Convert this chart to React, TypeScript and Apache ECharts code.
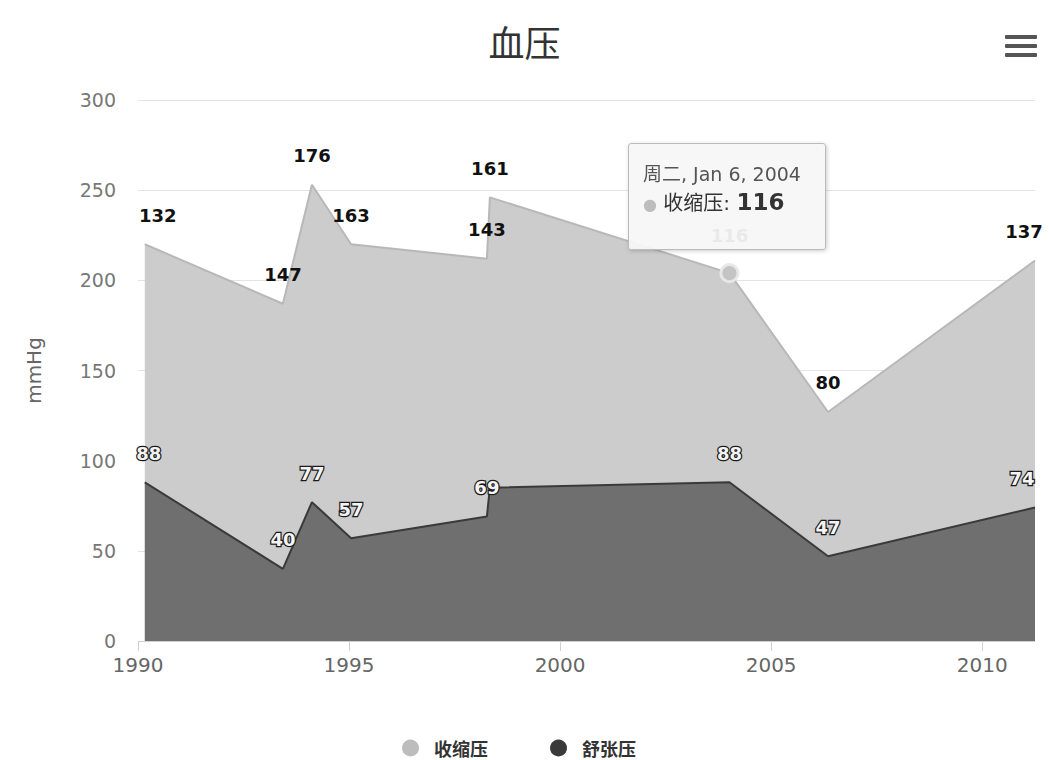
import React, { useEffect, useRef } from "react";
import * as echarts from "echarts";

const dates = ["1990-03-01", "1993-06-08", "1994-02-14", "1995-01-19", "1998-04-08", "1998-05-04", "2004-01-06", "2006-05-08", "2011-04-03"];
const systolic = [132, 147, 176, 163, 143, 161, 116, 80, 137];
const diastolic = [88, 40, 77, 57, 69, 85, 88, 47, 74];
const seriesNames = ["收缩压", "舒张压"];
const seriesColors = ["#bdbdbd", "#3a3a3a"];
const titleText = "血压";
const yAxisName = "mmHg";
const weekdays = ["周日", "周一", "周二", "周三", "周四", "周五", "周六"];
const months = ["Jan", "Feb", "Mar", "Apr", "May", "Jun", "Jul", "Aug", "Sep", "Oct", "Nov", "Dec"];
const hiddenDiastolicLabel = 5;
const tooltipIndex = 6;

const ts = (s: string) => {
  const [y, m, d] = s.split("-").map(Number);
  return Date.UTC(y, m - 1, d);
};
const FIVE_YEARS = 5 * 365.25 * 86400000;
const FONT = '"DejaVu Sans", "Noto Sans CJK SC", sans-serif';
const CJK = '"Noto Sans CJK SC", "DejaVu Sans", sans-serif';
const INVISIBLE = "rgba(0,0,0,0)";

export default function App() {
  const ref = useRef<HTMLDivElement>(null);
  useEffect(() => {
    document.body.style.margin = "0";
    if (!ref.current) return;
    const chart = echarts.init(ref.current, undefined, { renderer: "svg" });
    const last = dates.length - 1;
    const diaData = dates.map((d, i) => {
      const item: any = { value: [ts(d), diastolic[i]] };
      if (i === hiddenDiastolicLabel) item.label = { show: false };
      if (i === 0) item.label = { offset: [4, 0] };
      if (i === last) item.label = { offset: [-13, 0] };
      return item;
    });
    // upper edge of the systolic band = diastolic + systolic (its area is drawn beneath the diastolic area)
    const sysData = dates.map((d, i) => {
      const item: any = { value: [ts(d), diastolic[i] + systolic[i]] };
      if (i === tooltipIndex) {
        item.symbolSize = 17;
        item.itemStyle = { color: "#c4c4c4", borderColor: "rgba(232,232,232,0.95)", borderWidth: 3 };
      }
      if (i === 0) item.label = { offset: [13, 0] };
      if (i === last) item.label = { offset: [-11, 0] };
      return item;
    });
    const labelBase = {
      show: true,
      position: "top",
      distance: 19,
      fontSize: 18,
      fontWeight: "bold",
      fontFamily: FONT,
    };
    chart.setOption({
      animation: false,
      backgroundColor: "#ffffff",
      textStyle: { fontFamily: FONT },
      title: {
        text: titleText,
        left: "center",
        top: 18,
        textStyle: { fontSize: 36, fontWeight: "normal", color: "#333", fontFamily: CJK },
      },
      grid: { left: 138, right: 14, top: 100, bottom: 119 },
      legend: {
        data: seriesNames.map((n, i) => ({ name: n, itemStyle: { color: seriesColors[i] } })),
        left: 397,
        top: 734,
        icon: "circle",
        itemWidth: 17,
        itemHeight: 17,
        itemGap: 62,
        textStyle: { fontSize: 18, fontWeight: "bold", color: "#333", padding: [0, 0, 0, 10], fontFamily: CJK },
      },
      tooltip: {
        trigger: "item",
        triggerOn: "none",
        alwaysShowContent: true,
        position: [628, 143],
        backgroundColor: "rgba(247,247,247,0.94)",
        borderColor: "#bbbbbb",
        borderWidth: 1,
        padding: [16, 8, 30, 14],
        textStyle: { color: "#333", fontSize: 20, fontFamily: FONT },
        extraCssText: "border-radius:3px;box-shadow:1px 1px 4px rgba(0,0,0,0.2);width:174px;line-height:28px;white-space:nowrap;",
        formatter: (p: any) => {
          const i = p.dataIndex;
          const d = new Date(ts(dates[i]));
          return `<span style="font-size:19px;color:#555">${weekdays[d.getUTCDay()]}, ${months[d.getUTCMonth()]} ${d.getUTCDate()}, ${d.getUTCFullYear()}</span><br/><span style="color:${seriesColors[0]};font-size:16px">●</span> ${seriesNames[0]}: <b style="font-size:23px">${systolic[i]}</b>`;
        },
      },
      xAxis: {
        type: "value",
        min: Date.UTC(1990, 0, 1),
        max: ts(dates[dates.length - 1]),
        interval: FIVE_YEARS,
        axisLine: { show: true, lineStyle: { color: "#d0d0d0", width: 1 } },
        axisTick: { show: true, length: 10, lineStyle: { color: "#d0d0d0" } },
        splitLine: { show: false },
        axisLabel: {
          color: "#666",
          fontSize: 20,
          margin: 14,
          showMaxLabel: false,
          formatter: (v: number) => String(new Date(v + 86400000).getUTCFullYear()),
        },
      },
      yAxis: {
        type: "value",
        min: 0,
        max: 300,
        interval: 50,
        name: yAxisName,
        nameLocation: "middle",
        nameGap: 94,
        nameRotate: 90,
        nameTextStyle: { color: "#666", fontSize: 20 },
        axisLine: { show: false },
        axisTick: { show: false },
        splitLine: { lineStyle: { color: "#e4e4e4", width: 1 } },
        axisLabel: { color: "#777", fontSize: 19, margin: 22 },
      },
      series: [
        {
          name: seriesNames[0],
          type: "line",
          z: 2,
          data: sysData,
          symbol: "circle",
          symbolSize: 2,
          showSymbol: true,
          showAllSymbol: true,
          itemStyle: { color: INVISIBLE },
          lineStyle: { color: "#b8b8b8", width: 2 },
          areaStyle: { color: "#cccccc", opacity: 1 },
          emphasis: { disabled: true },
          label: {
            ...labelBase,
            formatter: (p: any) => String(systolic[p.dataIndex]),
            color: "#111",
          },
        },
        {
          name: seriesNames[1],
          type: "line",
          z: 3,
          data: diaData,
          symbol: "circle",
          symbolSize: 2,
          showSymbol: true,
          showAllSymbol: true,
          itemStyle: { color: INVISIBLE },
          lineStyle: { color: "#3a3a3a", width: 2 },
          areaStyle: { color: "#6f6f6f", opacity: 1 },
          emphasis: { disabled: true },
          label: {
            ...labelBase,
            formatter: (p: any) => String(diastolic[p.dataIndex]),
            color: "#f4f4f4",
            textBorderColor: "#1a1a1a",
            textBorderWidth: 2.5,
          },
        },
      ],
      graphic: [
        { type: "rect", shape: { x: 1005, y: 35, width: 32, height: 4, r: 1 }, style: { fill: "#555" } },
        { type: "rect", shape: { x: 1005, y: 44, width: 32, height: 4, r: 1 }, style: { fill: "#555" } },
        { type: "rect", shape: { x: 1005, y: 53, width: 32, height: 4, r: 1 }, style: { fill: "#555" } },
      ],
    });
    chart.dispatchAction({ type: "showTip", seriesIndex: 0, dataIndex: tooltipIndex });
    return () => chart.dispose();
  }, []);
  return <div ref={ref} style={{ width: 1049, height: 760 }} />;
}
